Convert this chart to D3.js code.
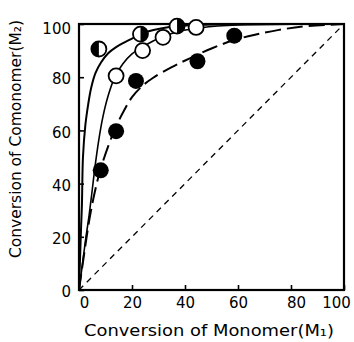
<!DOCTYPE html>
<html>
<head>
<meta charset="utf-8">
<script src="https://cdn.jsdelivr.net/npm/d3@7"></script>
<style>
  html, body { margin: 0; padding: 0; background: #fff; }
  svg { display: block; }
  text { font-family: "DejaVu Sans", sans-serif; fill: #000; }
</style>
</head>
<body>
<svg id="chart" width="354" height="342"></svg>
<script>
// Conversion of monomer M1 (x) vs conversion of comonomer M2 (y), in %
const tickValues = [0, 20, 40, 60, 80, 100];

// Half-filled symbols
const halfX = [7.5, 23.2, 37];
const halfY = [90.6, 96.2, 99.2];
// Open symbols
const openX = [14, 24, 31.7, 44.2];
const openY = [80.5, 90, 95, 98.7];
// Filled symbols
const filledX = [8.2, 14, 21.5, 44.7, 58.6];
const filledY = [45, 59.7, 78.6, 86, 95.6];

// Calculated conversion curves
const curveAX = [0, 0.4, 0.8, 1.1, 1.5, 2.4, 3.5, 4.6, 6.2, 8.3, 11, 14, 17, 20, 26, 33, 42, 55, 100];
const curveAY = [0, 12, 24, 32, 50, 62, 70, 76, 81.5, 85.5, 89, 91.3, 93, 94.5, 97.2, 98.7, 99.5, 99.9, 100];
const curveBX = [0, 1.2, 2.5, 3.8, 4.8, 6, 7.4, 9, 11, 13.5, 16.5, 20, 25, 31, 38, 46, 60, 100];
const curveBY = [0, 9, 19, 28, 36, 46, 56, 65, 73, 80, 85, 88.8, 92, 95, 97.3, 98.6, 99.6, 100];
const curveCX = [0, 2, 4, 6, 8, 11, 14, 17, 20, 24, 28, 35, 42, 50, 58, 66, 75, 85, 100];
const curveCY = [0, 14, 27, 37, 45, 54, 61.5, 67.5, 72.5, 76.8, 79.8, 83.8, 87.2, 90.8, 93.8, 95.9, 97.7, 99.1, 100];

// Which half of each half-filled symbol is dark
const halfShade = ["left", "right", "right"];

const svg = d3.select("#chart");
const x = d3.scaleLinear().domain([0, 100]).range([79, 344]);
const y = d3.scaleLinear().domain([0, 100]).range([290, 24]);

// Frame
svg.append("rect")
  .attr("x", x(0)).attr("y", y(100))
  .attr("width", x(100) - x(0)).attr("height", y(0) - y(100))
  .attr("fill", "none").attr("stroke", "#000").attr("stroke-width", 2.2);

// Axes with inward ticks
const xAxis = svg.append("g")
  .attr("transform", `translate(0,${y(0)})`)
  .call(d3.axisBottom(x).tickValues(tickValues).tickSize(-5).tickPadding(10).tickFormat(d3.format("d")));
xAxis.select(".domain").remove();
xAxis.selectAll(".tick line").attr("stroke", "#000").attr("stroke-width", 1.6);
xAxis.selectAll(".tick text")
  .attr("font-size", 15).attr("font-family", "DejaVu Sans, sans-serif")
  .attr("dx", d => d === 0 ? 5 : d === 100 ? -8 : d === 80 ? 5 : 0)
  .attr("dy", "0.55em");

const yAxis = svg.append("g")
  .attr("transform", `translate(${x(0)},0)`)
  .call(d3.axisLeft(y).tickValues(tickValues).tickSize(-5).tickPadding(8).tickFormat(d3.format("d")));
yAxis.select(".domain").remove();
yAxis.selectAll(".tick line").attr("stroke", "#000").attr("stroke-width", 1.6);
yAxis.selectAll(".tick text")
  .attr("font-size", 15).attr("font-family", "DejaVu Sans, sans-serif")
  .attr("dy", d => d === 100 ? "0.65em" : "0.45em");

// Axis titles
svg.append("text")
  .attr("x", 209).attr("y", 336)
  .attr("text-anchor", "middle")
  .attr("font-size", 15)
  .attr("textLength", 250).attr("lengthAdjust", "spacingAndGlyphs")
  .text("Conversion of  Monomer(M\u2081)");

svg.append("text")
  .attr("transform", "translate(21,139) rotate(-90)")
  .attr("text-anchor", "middle")
  .attr("font-size", 15)
  .attr("textLength", 238).attr("lengthAdjust", "spacingAndGlyphs")
  .text("Conversion of Comonomer(M\u2082)");

// Diagonal reference (equal conversion)
svg.append("line")
  .attr("x1", x(0)).attr("y1", y(0)).attr("x2", x(100)).attr("y2", y(100))
  .attr("stroke", "#000").attr("stroke-width", 1.3).attr("stroke-dasharray", "6,5");

const line = d3.line().x(d => x(d[0])).y(d => y(d[1])).curve(d3.curveCatmullRom.alpha(0.5));
const pts = (xs, ys) => xs.map((v, i) => [v, ys[i]]);

svg.append("path").datum(pts(curveAX, curveAY))
  .attr("d", line).attr("fill", "none").attr("stroke", "#000").attr("stroke-width", 2);
svg.append("path").datum(pts(curveBX, curveBY))
  .attr("d", line).attr("fill", "none").attr("stroke", "#000").attr("stroke-width", 1.6);
svg.append("path").datum(pts(curveCX, curveCY))
  .attr("d", line).attr("fill", "none").attr("stroke", "#000").attr("stroke-width", 2)
  .attr("stroke-dasharray", "16,6");

const r = 7.5;

// Open symbols
svg.append("g").selectAll("circle").data(pts(openX, openY)).join("circle")
  .attr("cx", d => x(d[0])).attr("cy", d => y(d[1])).attr("r", r)
  .attr("fill", "#fff").attr("stroke", "#000").attr("stroke-width", 1.8);

// Filled symbols
svg.append("g").selectAll("circle").data(pts(filledX, filledY)).join("circle")
  .attr("cx", d => x(d[0])).attr("cy", d => y(d[1])).attr("r", r + 0.5)
  .attr("fill", "#000").attr("stroke", "none");

// Half-filled symbols
const half = svg.append("g").selectAll("g").data(pts(halfX, halfY)).join("g")
  .attr("transform", d => `translate(${x(d[0])},${y(d[1])})`);
half.append("circle").attr("r", r).attr("fill", "#fff");
half.append("path")
  .attr("d", (d, i) => halfShade[i] === "left"
    ? `M0,${-r} A${r},${r} 0 0,0 0,${r} Z`
    : `M0,${-r} A${r},${r} 0 0,1 0,${r} Z`)
  .attr("fill", "#000");
half.append("circle").attr("r", r).attr("fill", "none")
  .attr("stroke", "#000").attr("stroke-width", 1.8);
</script>
</body>
</html>
